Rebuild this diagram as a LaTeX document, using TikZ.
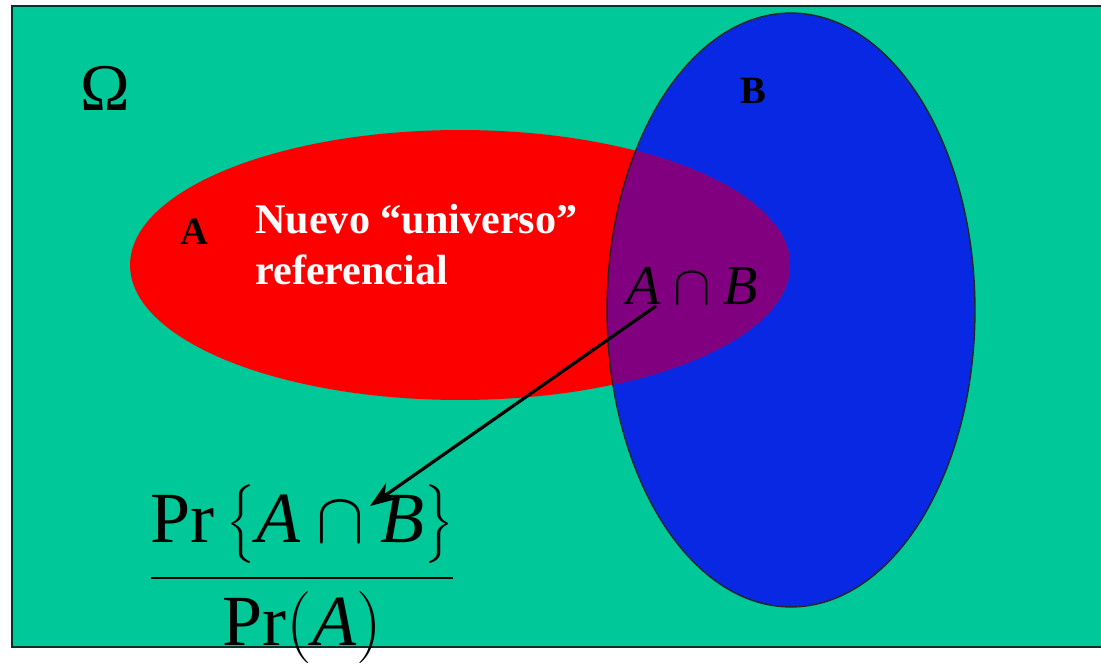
\documentclass[tikz,border=0pt]{standalone}
\usepackage{fix-cm}
\usepackage{amsmath}
\usepackage{fontspec}
\setmainfont{Liberation Serif}
\usetikzlibrary{arrows.meta,positioning}
\definecolor{verde}{RGB}{0,200,152}
\definecolor{rojo}{RGB}{252,0,0}
\definecolor{azul}{RGB}{8,40,228}
\definecolor{morado}{RGB}{128,0,128}

\begin{document}
\begin{tikzpicture}[x=0.02cm, y=-0.02cm, >={Stealth[length=15pt,width=11pt]}]
\useasboundingbox (0,0) rectangle (1101,665);
\fill[verde, draw=black!75!verde, line width=1pt] (12,6) rectangle (1110,647);

% conjuntos
\fill[azul] (791,310) ellipse [x radius=3.68cm, y radius=5.94cm];
\fill[rojo] (460,265) ellipse [x radius=6.6cm, y radius=2.7cm];
\begin{scope}
\clip (791,310) ellipse [x radius=3.68cm, y radius=5.94cm];
\fill[morado] (460,265) ellipse [x radius=6.6cm, y radius=2.7cm];
\end{scope}
\draw[black!85, line width=0.8pt] (791,310) ellipse [x radius=3.68cm, y radius=5.94cm];

\node (omega) at (105,88) {\fontsize{38}{42}\selectfont Ω};
\node (b) at (753,91) {\fontsize{22}{26}\selectfont\bfseries B};
\node (a) at (194,232) {\fontsize{22}{26}\selectfont\bfseries A};
\node[anchor=north west, align=left, text=white, inner sep=0pt,
  font=\fontsize{24}{29}\selectfont\bfseries] (nuevo) at (255,204)
  {Nuevo “universo”\\referencial};
\node (ab) at (692,286) {\fontsize{32}{38}\selectfont$\mathit{A}\cap\mathit{B}$};

\node[anchor=base] (frac) at (302,596) {\fontsize{41}{48}\selectfont
  $\genfrac{}{}{1.7pt}{0}{\Pr\,\bigl\{\mathit{A}\mathbin{\cap}\mathit{B}\bigr\}}{\Pr(\mathit{A})}$};

\coordinate (cola) at (656,306);
\coordinate (punta) at (370,506);
\draw[->, line width=1.8pt] (cola) -- (punta);
\end{tikzpicture}
\end{document}
